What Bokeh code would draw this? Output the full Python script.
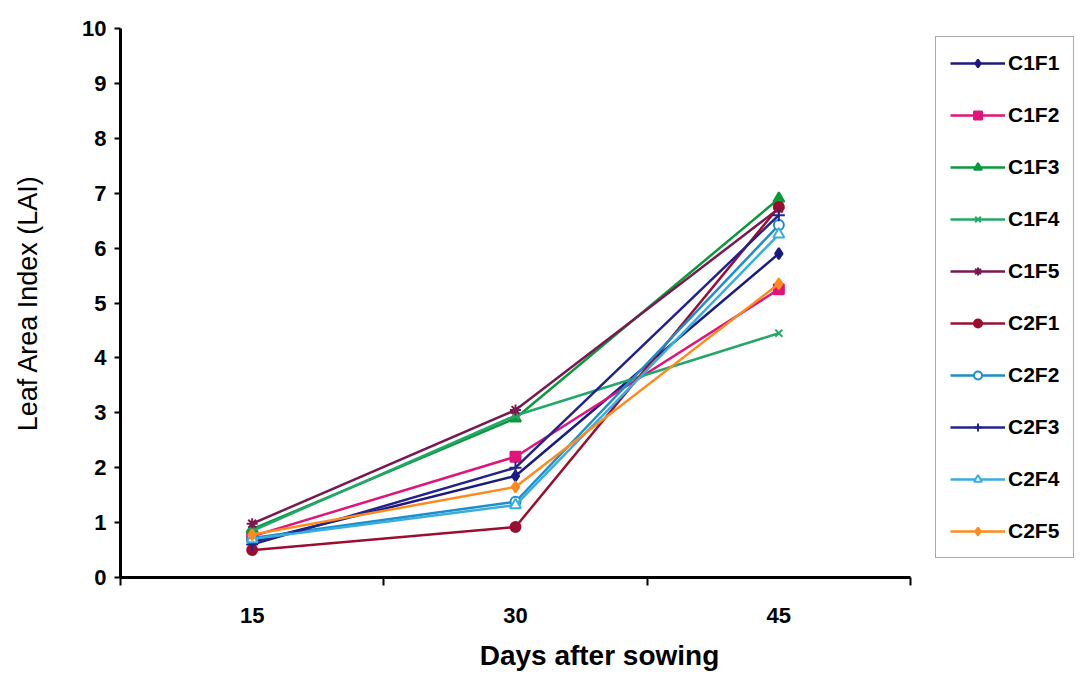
from bokeh.plotting import figure
from bokeh.models import FixedTicker, Legend, LegendItem, Range1d
from bokeh.embed import file_html
from bokeh.resources import INLINE

days = [15, 30, 45]
series_names = ["C1F1", "C1F2", "C1F3", "C1F4", "C1F5", "C2F1", "C2F2", "C2F3", "C2F4", "C2F5"]
c1f1 = [0.65, 1.85, 5.90]
c1f2 = [0.75, 2.20, 5.25]
c1f3 = [0.88, 2.90, 6.90]
c1f4 = [0.85, 2.95, 4.45]
c1f5 = [0.98, 3.05, 6.72]
c2f1 = [0.50, 0.92, 6.75]
c2f2 = [0.72, 1.38, 6.42]
c2f3 = [0.60, 2.00, 6.60]
c2f4 = [0.70, 1.32, 6.25]
c2f5 = [0.78, 1.65, 5.35]
values = [c1f1, c1f2, c1f3, c1f4, c1f5, c2f1, c2f2, c2f3, c2f4, c2f5]
y_ticks = list(range(0, 11))

colors = ["#1a1a80", "#e0147a", "#0a9a3c", "#22a868", "#7a1850",
          "#9a0f30", "#1e8ec8", "#23238c", "#38aee0", "#ff8a1e"]
markers = ["diamond", "square", "triangle", "x", "asterisk",
           "circle", "circle", "cross", "triangle", "diamond"]
filled = [True, True, True, True, True, True, False, True, False, True]
sizes = [11, 10, 11, 10, 11, 10, 10, 12, 11, 11]

FONT = "Liberation Sans"

# frame spans 120..1078 px; axis drawn only over 7.5..52.5 (=120..910 px)
x_end = 7.5 + 45.0 * (1083 - 5 - 120) / 790.0
p = figure(width=1083, height=676, output_backend="svg", toolbar_location=None,
           x_range=Range1d(7.5, x_end), y_range=Range1d(0, 10),
           min_border_left=120, min_border_top=28, min_border_bottom=99,
           min_border_right=5)
p.outline_line_color = None
p.xgrid.visible = False
p.ygrid.visible = False
p.background_fill_color = "white"
p.border_fill_color = "white"

items = []
for name, vals, col, mk, fl, sz in zip(series_names, values, colors, markers, filled, sizes):
    r1 = p.line(days, vals, line_color=col, line_width=2.5)
    r2 = p.scatter(days, vals, marker=mk, size=sz, line_color=col, line_width=2,
                   fill_color=col if fl else "white")
    items.append(LegendItem(label=name, renderers=[r1, r2]))

# axes
p.xaxis.bounds = (7.5, 52.5)
p.xaxis.ticker = FixedTicker(ticks=days, minor_ticks=[7.5, 22.5, 37.5, 52.5])
p.xaxis.major_tick_out = 0
p.xaxis.major_tick_in = 0
p.xaxis.minor_tick_out = 8
p.xaxis.minor_tick_in = 0
p.xaxis.minor_tick_line_width = 2
p.xaxis.minor_tick_line_color = "black"
p.xaxis.axis_line_width = 3
p.xaxis.axis_line_color = "black"
p.xaxis.major_label_standoff = 22
p.xaxis.major_label_text_font = FONT
p.xaxis.major_label_text_font_style = "bold"
p.xaxis.major_label_text_font_size = "22px"
p.xaxis.major_label_text_color = "black"
p.xaxis.axis_label = "Days after sowing"
p.xaxis.axis_label_text_font = FONT
p.xaxis.axis_label_text_font_style = "bold"
p.xaxis.axis_label_text_font_size = "28px"
p.xaxis.axis_label_text_color = "black"
p.xaxis.axis_label_standoff = 14

p.yaxis.ticker = FixedTicker(ticks=y_ticks)
p.yaxis.major_tick_out = 6
p.yaxis.major_tick_in = 0
p.yaxis.major_tick_line_width = 2
p.yaxis.minor_tick_out = 0
p.yaxis.minor_tick_in = 0
p.yaxis.axis_line_width = 3
p.yaxis.axis_line_color = "black"
p.yaxis.major_label_standoff = 8
p.yaxis.major_label_text_font = FONT
p.yaxis.major_label_text_font_style = "bold"
p.yaxis.major_label_text_font_size = "22px"
p.yaxis.major_label_text_color = "black"
p.yaxis.axis_label = "Leaf Area Index (LAI)"
p.yaxis.axis_label_text_font = FONT
p.yaxis.axis_label_text_font_style = "normal"
p.yaxis.axis_label_text_font_size = "27px"
p.yaxis.axis_label_text_color = "black"
p.yaxis.axis_label_standoff = 36

legend = Legend(items=items, location=(815, 19))
legend.label_text_font = FONT
legend.label_text_font_style = "bold"
legend.label_text_font_size = "21px"
legend.label_text_color = "black"
legend.glyph_width = 55
legend.glyph_height = 20
legend.label_height = 20
legend.label_standoff = 3
legend.spacing = 28
legend.padding = 14
legend.margin = 0
legend.border_line_color = "#555555"
legend.border_line_width = 1.5
legend.background_fill_alpha = 1
p.add_layout(legend)

open("out.html", "w").write(file_html(p, INLINE))
